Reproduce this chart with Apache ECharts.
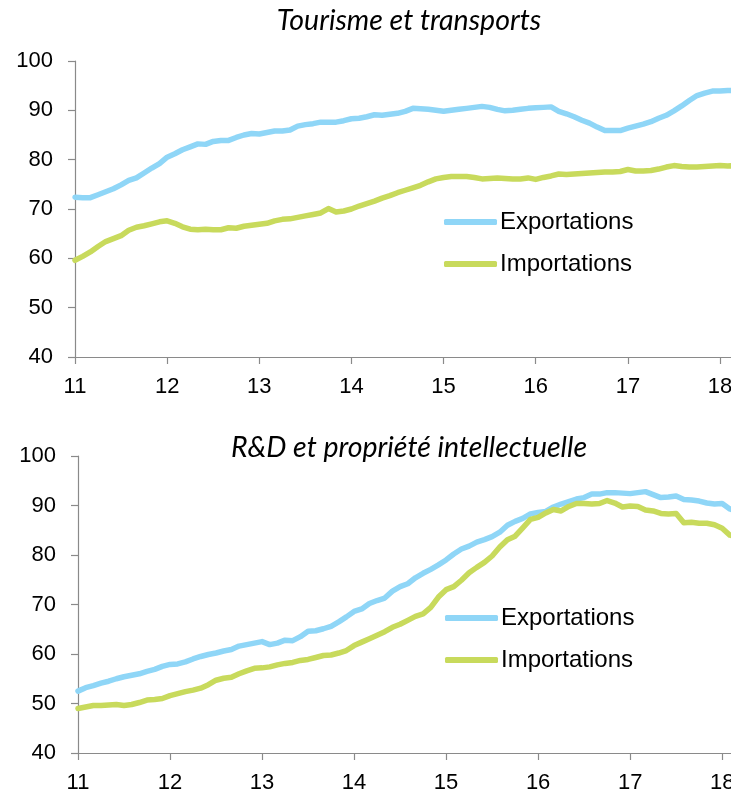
<!DOCTYPE html>
<html>
<head>
<meta charset="utf-8">
<script src="https://cdn.jsdelivr.net/npm/echarts@6/dist/echarts.min.js"></script>
<style>
  html, body { margin: 0; padding: 0; background: #fff; }
  #container { width: 731px; height: 793px; }
</style>
</head>
<body>
<div id="container"></div>
<script>
var years = ['11', '12', '13', '14', '15', '16', '17', '18'];

// Tourisme et transports (indices mensuels, janv. 2011 -> mars 2018)
var tourExport = [
    72.4, 72.3, 72.3, 72.9, 73.5, 74.1, 74.9, 75.8, 76.3, 77.3, 78.3, 79.2,
    80.5, 81.2, 82.0, 82.6, 83.2, 83.1, 83.7, 83.9, 83.9, 84.5, 85.0, 85.3,
    85.2, 85.5, 85.8, 85.8, 86.0, 86.8, 87.1, 87.3, 87.6, 87.6, 87.6, 87.9,
    88.3, 88.4, 88.7, 89.1, 89.0, 89.2, 89.4, 89.8, 90.4, 90.3, 90.2, 90.0,
    89.8, 90.0, 90.2, 90.4, 90.6, 90.8, 90.6, 90.2, 89.9, 90.0, 90.2, 90.4,
    90.5, 90.6, 90.7, 89.8, 89.3, 88.7, 88.0, 87.4, 86.6, 85.9, 85.9, 85.9,
    86.4, 86.8, 87.2, 87.7, 88.4, 89.0, 89.9, 90.9, 92.0, 93.0, 93.5, 93.9,
    93.9, 94.0, 94.1
];
var tourImport = [
    59.6, 60.4, 61.3, 62.4, 63.4, 64.0, 64.6, 65.7, 66.3, 66.6, 67.0, 67.4,
    67.6, 67.1, 66.4, 65.9, 65.8, 65.9, 65.8, 65.8, 66.2, 66.1, 66.5, 66.7,
    66.9, 67.1, 67.6, 67.9, 68.0, 68.3, 68.6, 68.9, 69.2, 70.1, 69.4, 69.6,
    70.0, 70.6, 71.1, 71.6, 72.2, 72.7, 73.3, 73.8, 74.3, 74.8, 75.5, 76.1,
    76.4, 76.6, 76.6, 76.6, 76.4, 76.1, 76.2, 76.3, 76.2, 76.1, 76.1, 76.3,
    76.0, 76.4, 76.7, 77.1, 77.0, 77.1, 77.2, 77.3, 77.4, 77.5, 77.5, 77.6,
    78.0, 77.7, 77.7, 77.8, 78.1, 78.5, 78.8, 78.6, 78.5, 78.5, 78.6, 78.7,
    78.8, 78.7, 78.8
];

// R&D et propriete intellectuelle
var rdExport = [
    52.5, 53.2, 53.6, 54.1, 54.5, 55.0, 55.4, 55.7, 56.0, 56.5, 56.9, 57.5,
    57.9, 58.0, 58.4, 59.0, 59.5, 59.9, 60.2, 60.6, 60.9, 61.6, 61.9, 62.2,
    62.5, 61.9, 62.2, 62.8, 62.7, 63.5, 64.6, 64.7, 65.1, 65.6, 66.5, 67.5,
    68.6, 69.1, 70.2, 70.8, 71.3, 72.7, 73.6, 74.2, 75.4, 76.3, 77.1, 78.0,
    79.0, 80.2, 81.2, 81.8, 82.6, 83.1, 83.7, 84.6, 86.0, 86.8, 87.4, 88.3,
    88.6, 88.8, 89.7, 90.3, 90.8, 91.3, 91.6, 92.3, 92.3, 92.6, 92.6, 92.5,
    92.4, 92.6, 92.8, 92.2, 91.6, 91.7, 91.9, 91.2, 91.1, 90.9, 90.5, 90.3,
    90.4, 89.3, 88.8
];
var rdImport = [
    49.0, 49.3, 49.6, 49.6, 49.7, 49.8, 49.6, 49.8, 50.2, 50.7, 50.8, 51.0,
    51.6, 52.0, 52.4, 52.7, 53.1, 53.8, 54.7, 55.1, 55.3, 56.0, 56.6, 57.1,
    57.2, 57.4, 57.8, 58.1, 58.3, 58.7, 58.9, 59.3, 59.7, 59.8, 60.2, 60.7,
    61.7, 62.4, 63.1, 63.8, 64.5, 65.4, 66.0, 66.8, 67.6, 68.1, 69.4, 71.5,
    73.0, 73.6, 74.9, 76.4, 77.5, 78.5, 79.8, 81.6, 83.1, 83.8, 85.5, 87.2,
    87.6, 88.5, 89.2, 88.9, 89.8, 90.4, 90.4, 90.3, 90.4, 91.0, 90.5, 89.7,
    89.9, 89.8, 89.1, 88.9, 88.4, 88.3, 88.4, 86.5, 86.6, 86.4, 86.4, 86.1,
    85.4, 84.0, 83.6
];

var seriesNames = ['Exportations', 'Importations'];
var colors = ['#8fd6f7', '#c8da5c'];

// categories mensuelles : '11-01', '11-02', ...
var months = [];
for (var y = 0; y < years.length; y++) {
    for (var m = 1; m <= 12; m++) {
        months.push(years[y] + '-' + (m < 10 ? '0' + m : m));
    }
}
months = months.slice(0, tourExport.length);

var dom = document.getElementById("container");
var myChart = echarts.init(dom, null, { renderer: 'canvas' });

var axisColor = '#8a8a8a';
var labelFont = 'Liberation Sans';
var isYearStart = function (index) { return index % 12 === 0; };

var makeX = function (gridIndex) {
    return {
        type: 'category',
        gridIndex: gridIndex,
        data: months,
        boundaryGap: false,
        axisLine: { lineStyle: { color: axisColor, width: 1.2 } },
        axisTick: { interval: isYearStart, length: 7, lineStyle: { color: axisColor, width: 1.2 } },
        axisLabel: {
            interval: isYearStart,
            margin: 19,
            color: '#000',
            fontSize: 22,
            fontFamily: labelFont,
            formatter: function (val) { return val.split('-')[0]; }
        },
        splitLine: { show: false }
    };
};

var makeY = function (gridIndex) {
    return {
        type: 'value',
        gridIndex: gridIndex,
        min: 40,
        max: 100,
        interval: 10,
        axisLine: { show: true, lineStyle: { color: axisColor, width: 1.2 } },
        axisTick: { show: true, length: 7, lineStyle: { color: axisColor, width: 1.2 } },
        axisLabel: { margin: 22, color: '#000', fontSize: 22, fontFamily: labelFont },
        splitLine: { show: false }
    };
};

var makeLine = function (name, data, idx, color) {
    return {
        name: name,
        type: 'line',
        xAxisIndex: idx,
        yAxisIndex: idx,
        data: data,
        showSymbol: false,
        symbol: 'none',
        smooth: false,
        animation: false,
        lineStyle: { color: color, width: 5.5, cap: 'round', join: 'round' },
        itemStyle: { color: color }
    };
};

var titleStyle = { fontFamily: 'Lato', fontStyle: 'italic', fontWeight: 'normal', fontSize: 28.5, color: '#000' };
var legendStyle = {
    orient: 'vertical',
    icon: 'roundRect',
    itemWidth: 53,
    itemHeight: 6,
    itemGap: 18,
    textStyle: { fontFamily: labelFont, fontSize: 24, color: '#000', padding: [0, 0, 0, -2] },
    data: seriesNames
};

var option = {
    backgroundColor: '#fff',
    animation: false,
    title: [
        { text: 'Tourisme et transports', left: 404, top: 1, textAlign: 'center', textStyle: titleStyle },
        { text: 'R&D et propriété intellectuelle', left: 404, top: 428, textAlign: 'center', textStyle: titleStyle }
    ],
    legend: [
        Object.assign({ left: 439, top: 205 }, legendStyle),
        Object.assign({ left: 440, top: 601 }, legendStyle)
    ],
    grid: [
        { left: 75, width: 660.4, top: 61, height: 296, outerBoundsMode: 'none', containLabel: false },
        { left: 78, width: 659.5, top: 456, height: 297, outerBoundsMode: 'none', containLabel: false }
    ],
    xAxis: [makeX(0), makeX(1)],
    yAxis: [makeY(0), makeY(1)],
    series: [
        makeLine(seriesNames[0], tourExport, 0, colors[0]),
        makeLine(seriesNames[1], tourImport, 0, colors[1]),
        makeLine(seriesNames[0], rdExport, 1, colors[0]),
        makeLine(seriesNames[1], rdImport, 1, colors[1])
    ]
};

if (option && typeof option === "object") {
    myChart.setOption(option, false);
}
</script>
</body>
</html>
